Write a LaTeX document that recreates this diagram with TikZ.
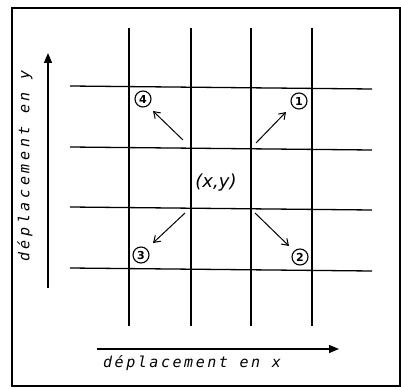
\documentclass[tikz,border=0pt]{standalone}
\usepackage{fontspec}
\setmainfont{DejaVu Sans}
\newfontfamily\letteringx[LetterSpace=17]{DejaVu Sans Mono}
\newfontfamily\letteringy[LetterSpace=24]{DejaVu Sans Mono}
\usetikzlibrary{arrows.meta}
\tikzset{
  gridline/.style={line width=1.3pt, black},
  frameline/.style={line width=1.5pt, black},
  axisarrow/.style={line width=1.2pt, -{Triangle[length=10pt,width=8pt]}},
  movearrow/.style={line width=1pt, -{Straight Barb[length=6pt,width=8pt,line width=1pt]}},
  numcircle/.style={draw, circle, line width=1.1pt, inner sep=0pt, minimum size=16pt, font=\bfseries\fontsize{11}{11}\selectfont},
  xlabelstyle/.style={font=\letteringx\itshape\fontsize{15}{15}\selectfont, inner sep=0pt},
  ylabelstyle/.style={font=\letteringy\itshape\fontsize{15}{15}\selectfont, inner sep=0pt}
}
\begin{document}
\begin{tikzpicture}[x=1pt,y=-1pt]
\useasboundingbox (0,0) rectangle (401,390);
\draw[frameline] (12,8) rectangle (400,386);
% vertical grid lines
\foreach \x in {129,191,251,312} \draw[gridline] (\x,28) -- (\x,326);
% horizontal grid lines
\foreach \y in {86,147,207,268} \draw[gridline] (70,\y) -- (372,\y+3);
% axes
\coordinate (ya) at (48,288);
\coordinate (yb) at (48,53);
\draw[axisarrow] (ya) -- (yb);
\node[ylabelstyle, rotate=90] (ylab) at (25,166) {déplacement en y};
\coordinate (xa) at (97,349);
\coordinate (xb) at (339,349);
\draw[axisarrow] (xa) -- (xb);
\node[xlabelstyle] (xlab) at (192,363) {déplacement en x};
% centre label
\node[font=\itshape\fontsize{18}{18}\selectfont] (c) at (216,183) {(x,y)};
% numbered positions
\node[numcircle] (n4) at (143,99) {4};
\node[numcircle] (n1) at (299,101) {1};
\node[numcircle] (n3) at (141,255) {3};
\node[numcircle] (n2) at (300,257) {2};
% arrows
\coordinate (s4) at (183,140);
\coordinate (s1) at (256,143);
\coordinate (s3) at (185,213);
\coordinate (s2) at (255,213);
\draw[movearrow] (s4) -- (153,111);
\draw[movearrow] (s1) -- (286,112);
\draw[movearrow] (s3) -- (153,243);
\draw[movearrow] (s2) -- (289,246);
\end{tikzpicture}
\end{document}
